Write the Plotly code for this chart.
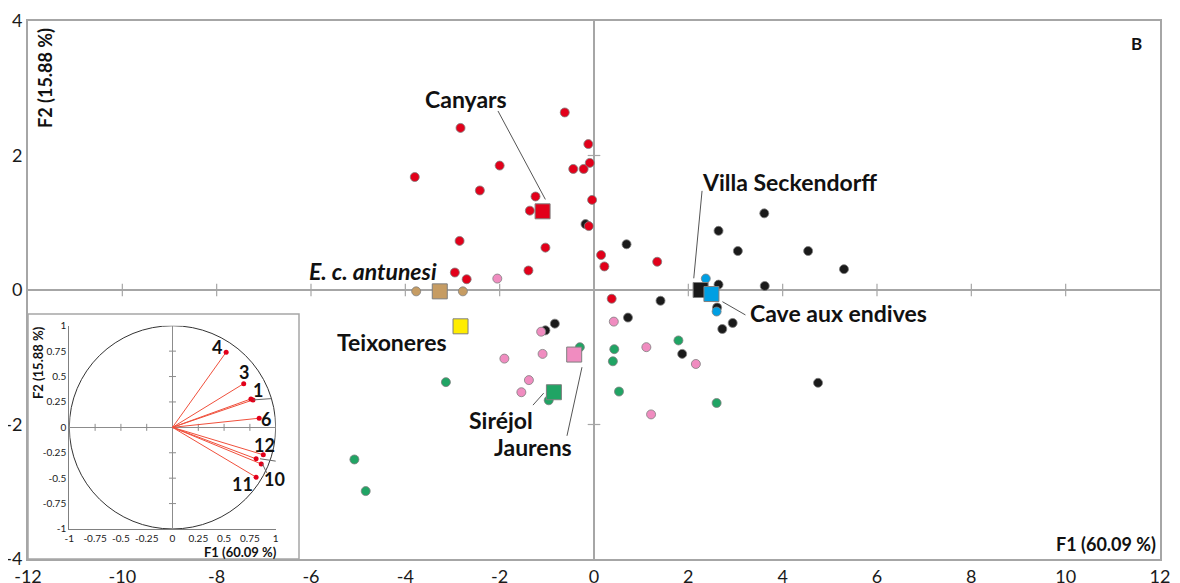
import plotly.graph_objects as go

# PCA scores (F1, F2) per site
canyars_x = [-0.62, -2.83, -0.12, -2.0, -0.44, -0.22, -0.09, -3.80, -2.42, -1.24, -1.36, -0.04,
             -0.11, -2.85, -1.03, 0.15, 0.22, -2.95, -2.70, -1.39, 0.375, 1.34]
canyars_y = [2.64, 2.41, 2.17, 1.85, 1.80, 1.80, 1.89, 1.68, 1.48, 1.39, 1.18, 1.34,
             0.95, 0.73, 0.63, 0.52, 0.35, 0.26, 0.16, 0.29, -0.13, 0.42]
villa_x = [-0.18, 0.69, 2.64, 3.62, 2.64, 3.61, 3.05, 4.54, 5.30, 1.41, 2.61, 2.94,
           2.72, 0.72, 1.87, 4.75, -0.83, -1.03]
villa_y = [0.98, 0.68, 0.08, 0.06, 0.88, 1.14, 0.58, 0.58, 0.31, -0.16, -0.26, -0.49,
           -0.58, -0.41, -0.95, -1.38, -0.50, -0.60]
cave_x = [2.37, 2.60]
cave_y = [0.17, -0.32]
jaurens_x = [-2.05, 0.42, 1.11, -1.12, -1.90, -1.09, -1.38, -1.54, 2.16, 1.21]
jaurens_y = [0.17, -0.47, -0.85, -0.62, -1.02, -0.95, -1.34, -1.52, -1.10, -1.85]
sirejol_x = [1.79, 0.43, -0.30, -3.14, -0.96, 0.40, 0.53, 2.60, -5.08, -4.84]
sirejol_y = [-0.75, -0.88, -0.85, -1.37, -1.64, -1.06, -1.51, -1.68, -2.52, -2.99]
antunesi_x = [-3.77, -2.78]
antunesi_y = [-0.02, -0.02]

# site centroids
sites = ["Villa Seckendorff", "Cave aux endives", "Canyars", "Jaurens", "Siréjol", "E. c. antunesi", "Teixoneres"]
cent_x = [2.26, 2.49, -1.09, -0.42, -0.85, -3.27, -2.83]
cent_y = [0.0, -0.06, 1.17, -0.96, -1.52, -0.02, -0.54]

# correlation circle loadings
var_names = ["4", "3", "1", "14", "6", "12", "5", "10", "11"]
load_f1 = [0.52, 0.69, 0.76, 0.78, 0.84, 0.88, 0.81, 0.86, 0.81]
load_f2 = [0.74, 0.43, 0.28, 0.27, 0.09, -0.27, -0.31, -0.36, -0.49]

main_xticks = list(range(-12, 13, 2))
main_yticks = list(range(-4, 5, 2))
inset_ticks = [-1, -0.75, -0.5, -0.25, 0, 0.25, 0.5, 0.75, 1]
inset_ticktext = ["-1", "-0.75", "-0.5", "-0.25", "0", "0.25", "0.5", "0.75", "1"]

RED = "#E2001A"
BLACK = "#1a1a1a"
BLUE = "#009FE3"
PINK = "#F08CC0"
GREEN = "#20A464"
TAN = "#C69C63"
YELLOW = "#FFED00"
EDGE = "#7f7f7f"
AX = "#a6a6a6"
FONT = "Lato"
TXT = "#111111"

fig = go.Figure()

# tick marks sitting on the zero lines
main_ticks = [t for t in main_xticks if abs(t) not in (0, 12)]
fig.add_trace(go.Scatter(x=main_ticks, y=[0] * len(main_ticks), mode="markers", hoverinfo="skip",
                         marker=dict(symbol="line-ns", size=9, line=dict(color=AX, width=1.2))))
fig.add_trace(go.Scatter(x=[0, 0], y=[-2, 2], mode="markers", hoverinfo="skip",
                         marker=dict(symbol="line-ew", size=9, line=dict(color=AX, width=1.2))))

def pts(x, y, col):
    fig.add_trace(go.Scatter(x=x, y=y, mode="markers", hoverinfo="skip",
                             marker=dict(size=9, color=col, line=dict(color=EDGE, width=0.8))))

pts(villa_x, villa_y, BLACK)
pts(canyars_x, canyars_y, RED)
pts(cave_x, cave_y, BLUE)
pts(jaurens_x, jaurens_y, PINK)
pts(sirejol_x, sirejol_y, GREEN)
pts(antunesi_x, antunesi_y, TAN)

sq_cols = [BLACK, BLUE, RED, PINK, GREEN, TAN, YELLOW]
fig.add_trace(go.Scatter(x=cent_x, y=cent_y, mode="markers", hoverinfo="skip",
                         marker=dict(symbol="square", size=15, color=sq_cols, line=dict(color=EDGE, width=1))))

# leader lines for the site labels
leaders = [(-2.036, 2.662, -1.031, 1.347), (2.291, 1.474, 2.115, 0.174), (2.723, -0.174, 3.211, -0.371),
           (-1.294, -1.712, -1.067, -1.534), (-0.573, -2.168, -0.255, -1.148)]
shapes = []
for a, b, c, d in leaders:
    shapes.append(dict(type="line", xref="x", yref="y", x0=a, y0=b, x1=c, y1=d,
                       line=dict(color="#555555", width=1)))

lab_pos = {"Canyars": (-2.706, 2.846), "Villa Seckendorff": (4.144, 1.608),
           "Cave aux endives": (5.183, -0.346), "E. c. antunesi": (-4.687, 0.282),
           "Teixoneres": (-4.28, -0.772), "Siréjol": (-1.964, -1.93), "Jaurens": (-1.283, -2.341)}
annotations = []
for name, (lx, ly) in lab_pos.items():
    txt = "<b><i>" + name + "</i></b>" if name.startswith("E.") else "<b>" + name + "</b>"
    annotations.append(dict(x=lx, y=ly, xref="x", yref="y", text=txt, showarrow=False,
                            xanchor="center", yanchor="middle",
                            font=dict(family=FONT, size=23, color=TXT)))

# ---- inset: correlation circle ----
shapes.append(dict(type="rect", xref="paper", yref="paper", x0=0, x1=0.2394, y0=0, y1=0.4554,
                   fillcolor="white", line=dict(color=AX, width=1.5), layer="below"))
shapes.append(dict(type="circle", xref="x2", yref="y2", x0=-1, y0=-1, x1=1, y1=1,
                   line=dict(color="#333333", width=1), layer="below"))

small = [-0.75, -0.5, -0.25, 0.25, 0.5, 0.75]
fig.add_trace(go.Scatter(x=small, y=[0] * 6, xaxis="x2", yaxis="y2", mode="markers", hoverinfo="skip",
                         marker=dict(symbol="line-ns", size=5, line=dict(color="#8c8c8c", width=1))))
fig.add_trace(go.Scatter(x=[0] * 6, y=small, xaxis="x2", yaxis="y2", mode="markers", hoverinfo="skip",
                         marker=dict(symbol="line-ew", size=5, line=dict(color="#8c8c8c", width=1))))

vx, vy = [], []
for f1, f2 in zip(load_f1, load_f2):
    vx += [0, f1, None]
    vy += [0, f2, None]
fig.add_trace(go.Scatter(x=vx, y=vy, xaxis="x2", yaxis="y2", mode="lines", hoverinfo="skip",
                         line=dict(color="#F0503C", width=1)))
fig.add_trace(go.Scatter(x=load_f1, y=load_f2, xaxis="x2", yaxis="y2", mode="markers", hoverinfo="skip",
                         marker=dict(size=5, color=RED)))

for a, b, c, d in [(0.784, 0.270, 0.961, 0.283), (0.848, -0.309, 1.025, -0.336), (0.871, -0.358, 0.913, -0.447)]:
    shapes.append(dict(type="line", xref="x2", yref="y2", x0=a, y0=b, x1=c, y1=d,
                       line=dict(color="#666666", width=1)))

var_lab = {"4": (0.43, 0.787), "3": (0.697, 0.546), "1": (0.826, 0.368), "14": (1.08, 0.309),
           "6": (0.906, 0.079), "12": (0.887, -0.178), "5": (1.068, -0.333), "10": (0.993, -0.506),
           "11": (0.681, -0.553)}
for name, (lx, ly) in var_lab.items():
    annotations.append(dict(x=lx, y=ly, xref="x2", yref="y2", text="<b>" + name + "</b>", showarrow=False,
                            xanchor="center", yanchor="middle",
                            font=dict(family=FONT, size=18, color=TXT)))

# axis titles and panel letter
for txt, x, y, ang, sz in [("F2 (15.88 %)", 0.015, 0.894, -90, 18),
                           ("F1 (60.09 %)", 0.952, 0.028, 0, 18),
                           ("B", 0.9794, 0.9585, 0, 17),
                           ("F2 (15.88 %)", 0.0088, 0.366, -90, 13),
                           ("F1 (60.09 %)", 0.1873, 0.0136, 0, 13)]:
    annotations.append(dict(x=x, y=y, xref="paper", yref="paper", text="<b>" + txt + "</b>",
                            textangle=ang, showarrow=False, xanchor="center", yanchor="middle",
                            font=dict(family=FONT, size=sz, color=TXT)))

# the page adds an 8px body margin, so the figure is 8px smaller than the window
fig.update_layout(
    width=1172, height=575,
    margin=dict(l=20, r=20, t=13, b=24),
    paper_bgcolor="white", plot_bgcolor="white",
    showlegend=False,
    font=dict(family=FONT, color="#1a1a1a"),
    shapes=shapes, annotations=annotations,
    xaxis=dict(range=[-12, 12], tickvals=main_xticks, ticktext=[str(t) for t in main_xticks],
               showgrid=False, automargin=False,
               zeroline=True, zerolinecolor=AX, zerolinewidth=1.5,
               showline=True, mirror=True, linecolor=AX, linewidth=2,
               ticks="", tickfont=dict(size=18), ticklabelstandoff=0),
    yaxis=dict(range=[-4, 4], tickvals=main_yticks, ticktext=[str(t) for t in main_yticks],
               showgrid=False, automargin=False,
               zeroline=True, zerolinecolor=AX, zerolinewidth=1.5,
               showline=True, mirror=True, linecolor=AX, linewidth=2,
               ticks="", tickfont=dict(size=18), ticklabelstandoff=0),
    xaxis2=dict(domain=[0.0365, 0.2188], anchor="y2", range=[-1, 1], tickvals=inset_ticks,
                ticktext=inset_ticktext, showgrid=False, automargin=False,
                zeroline=True, zerolinecolor="#8c8c8c",
                zerolinewidth=1, showline=True, linecolor="#808080", linewidth=1.2, ticks="",
                tickfont=dict(size=10), ticklabelstandoff=0),
    yaxis2=dict(domain=[0.0558, 0.4336], anchor="x2", range=[-1, 1], tickvals=inset_ticks,
                ticktext=inset_ticktext, showgrid=False, automargin=False,
                zeroline=True, zerolinecolor="#8c8c8c",
                zerolinewidth=1, showline=True, linecolor="#808080", linewidth=1.2, ticks="",
                tickfont=dict(size=10), ticklabelstandoff=0),
)

fig.write_html("out.html")
